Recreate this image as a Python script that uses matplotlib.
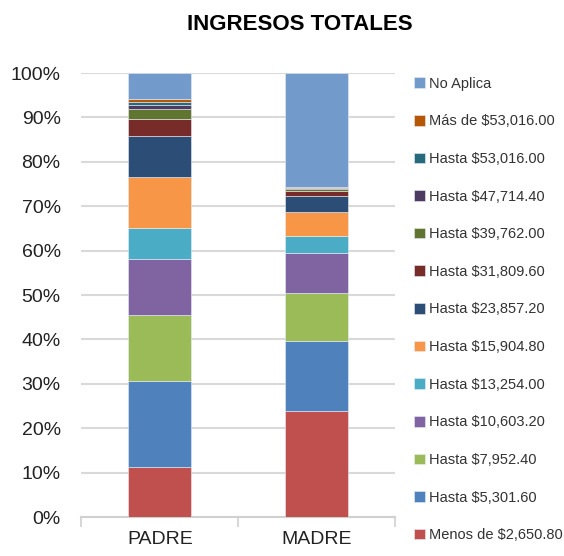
import matplotlib.pyplot as plt
import numpy as np

plt.rcParams['font.family'] = ['Liberation Sans', 'DejaVu Sans']

categorias = ['PADRE', 'MADRE']

rangos = ['Menos de $2,650.80', 'Hasta $5,301.60', 'Hasta $7,952.40', 'Hasta $10,603.20',
          'Hasta $13,254.00', 'Hasta $15,904.80', 'Hasta $23,857.20', 'Hasta $31,809.60',
          'Hasta $39,762.00', 'Hasta $47,714.40', 'Hasta $53,016.00', 'Más de $53,016.00',
          'No Aplica']

# porcentajes
padre = [11.2, 19.5, 14.8, 12.5, 7.2, 11.3, 9.2, 4.0, 2.1, 1.0, 0.6, 0.8, 5.8]
madre = [23.9, 15.7, 10.9, 9.0, 3.9, 5.4, 3.6, 1.1, 0.3, 0.2, 0.2, 0.1, 25.7]

colores = ['#C0504D', '#4F81BD', '#9BBB59', '#8064A2', '#4BACC6', '#F79646',
           '#2C4D75', '#772C2A', '#5F7530', '#4D3B62', '#276A7C', '#B65708', '#729ACA']

fig = plt.figure(figsize=(5.64, 5.56), dpi=100)
ax = fig.add_axes([0.1445, 0.0701, 0.555, 0.7986])

x = np.arange(len(categorias))
base = np.zeros(len(categorias))
for i in range(len(rangos)):
    vals = np.array([padre[i], madre[i]])
    ax.bar(x, vals, 0.4, bottom=base, color=colores[i], label=rangos[i],
           edgecolor='#e8eef6', linewidth=0.4, zorder=3)
    base = base + vals

ax.set_xlim(-0.5, 1.5)
ax.set_ylim(0, 100)
ax.set_yticks(np.arange(0, 101, 10))
ax.set_yticklabels([f'{v}%' for v in range(0, 101, 10)], fontsize=14, color='#222222')
ax.set_xticks(x)
ax.set_xticklabels(categorias, fontsize=14, color='#222222')
ax.tick_params(axis='y', length=0, pad=15)
ax.tick_params(axis='x', length=0, pad=10)
ax.set_xticks([-0.5, 0.5, 1.5], minor=True)
ax.tick_params(axis='x', which='minor', length=7, color='#d0d0d0', width=1.2)
ax.grid(axis='y', color='#d9d9d9', linewidth=1.5, zorder=0)
for s in ['top', 'right', 'left']:
    ax.spines[s].set_visible(False)
ax.spines['bottom'].set_color('#d0d0d0')
ax.spines['bottom'].set_linewidth(1.5)

fig.suptitle('INGRESOS TOTALES', x=0.532, y=0.975, fontsize=16, fontweight='bold')

h, l = ax.get_legend_handles_labels()
leg = fig.legend(h[::-1], l[::-1], loc='upper left', bbox_to_anchor=(0.734, 0.862),
                 frameon=False, fontsize=10.5, handlelength=0.75, handleheight=0.75,
                 handletextpad=0.25, labelspacing=1.62, borderpad=0, borderaxespad=0)
for t in leg.get_texts():
    t.set_color('#333333')

fig.savefig('out.png', dpi=100)
